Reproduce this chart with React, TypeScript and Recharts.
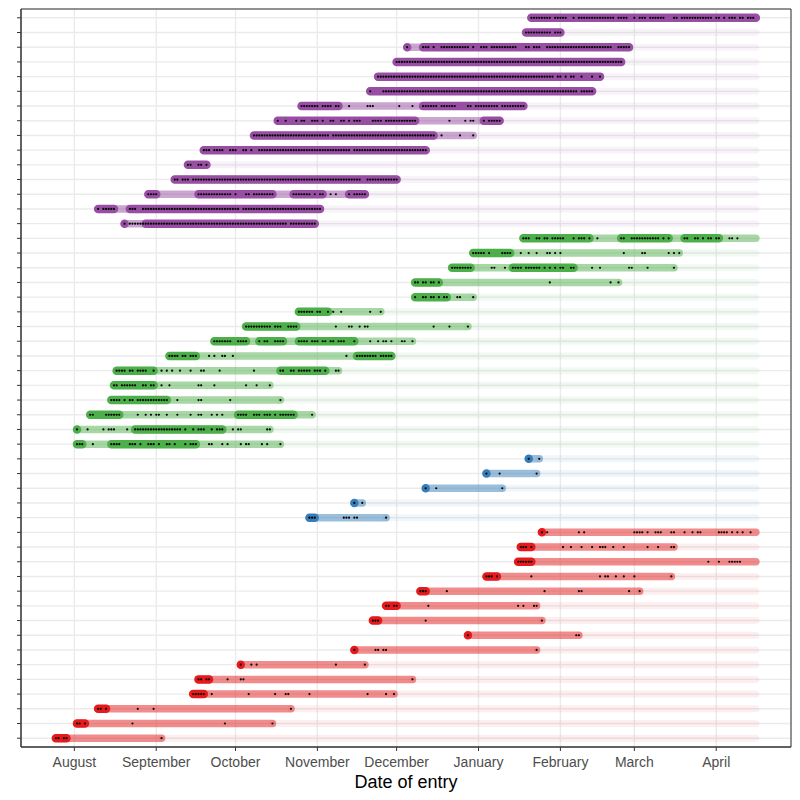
import React from 'react';
import {
  ComposedChart,
  Line,
  Scatter,
  XAxis,
  YAxis,
  CartesianGrid,
  ReferenceArea,
} from 'recharts';

// All dates are day offsets counted from 1 August (day 0).
const STUDY_END = 258; // 16 April

const monthTicks = [0, 31, 61, 92, 122, 153, 184, 212, 243];
const monthLabels = [
  'August', 'September', 'October', 'November', 'December',
  'January', 'February', 'March', 'April',
];

// Groups from bottom to top of the chart
const groupColors = ['#E41A1C', '#377EB8', '#4DAF4A', '#984EA3'];
const groupSizes = [15, 5, 15, 15];

// Per row (bottom row first): first entry, end of the followed period
const firstEntry = [
  -7, 1, 9, 45, 47, 63, 106, 149, 113, 118, 131, 156, 168, 169, 177,
  89, 106, 133, 156, 172,
  1, 1, 6, 14, 15, 16, 36, 53, 65, 85, 129, 129, 143, 151, 170,
  19, 9, 28, 38, 43, 49, 68, 77, 86, 112, 115, 122, 126, 171, 173,
];
const periodEnd = [
  33, 75, 82, 121, 128, 110, 175, 191, 177, 175, 214, 226, 258, 227, 258,
  118, 109, 162, 175, 176,
  78, 74, 90, 78, 74, 100, 120, 128, 149, 116, 151, 206, 227, 229, 258,
  91, 93, 110, 122, 50, 133, 151, 161, 170, 196, 199, 207, 210, 184, 258,
];

// Streaks of regular entries ("a:b" = from day a to day b)
const streaks = [
  '-7:-3', '1:4', '9:12', '45:49', '47:51', '63:63', '106:106', '149:149',
  '113:115', '118:122', '131:133', '156:160', '168:173', '169:173', '177:177',
  '89:91', '106:106', '133:133', '156:156', '172:172',
  '1:3 14:46', '1:1 23:56', '6:17 62:83', '14:35', '15:30', '16:30 78:95',
  '36:46 107:120', '53:65 70:79 85:106', '65:84', '85:96', '129:141',
  '129:138', '143:150 166:189', '151:165', '170:195 207:225 231:244',
  '19:19 27:91', '9:15 21:93', '28:31 47:75 83:94 104:110', '38:122',
  '43:50', '49:133', '68:136', '77:129 155:161', '86:100 132:170',
  '112:196', '115:199', '122:207', '126:126 132:210', '171:184', '173:258',
];

// Days with an entry ("a:b" = an entry on every day from a to b)
const entryDays = [
  '-7 -6 -4 -3 33',
  '1 2 4 22 57 75',
  '9 10 12 24 30 82',
  '45:49 52 66 76 80 81 89 111 118 121',
  '47 48 50 51 58 63 64 128',
  '63 67 69 99 110',
  '106 114 115 117 118 175',
  '149 190 191',
  '113:115 133 177',
  '118 119 121 122 134 168 170 174 175',
  '131:133 141 178 191 192 210 214',
  '156:158 160 173 199 201 202 205 208 212 226',
  '168:173 240 244 248:252',
  '169:171 173 185 188 192 196 199:201 204 208 217 221 226 227',
  '177 179 191 193 212:215 217 220:222 226 227 231 234 236 237 244:247 249 251 253 256',
  '89:91 102:104 106 107 118',
  '106 109',
  '133 137 162',
  '156 161 175',
  '172 176',
  '1:3 7 14:17 21:23 25 28:30 32 35 36 38 42 44:46 51 52 56 58 63 65 66 71 73 78',
  '1 5 11 13:15 20 23:40 42 45 47:49 52 54:56 60 62 63 73 74',
  '6 7 12:17 24 27 29 31 32 35 39 44 47 48 52 54 56 62:65 68:70 72:74 76 78:83 90',
  '14:17 19 21 22 24:35 39 47 48 59 78',
  '15 16 18:23 26 27 29 30 33 36 47 48 53 65 69 74',
  '16:19 21 22 24:27 30 33 35 37 40 44 48 49 55 68 78 79 82 83 85:89 91:93 95 99 100',
  '36:39 41 42 44:46 51 53 56 57 60 103 107:114 116:120',
  '53:59 62:65 70 72 73 76:79 85:88 90:92 94 95 97 98 100:102 106 112 115 117 118 120 124 125 128',
  '65:74 76:78 81:84 99 104 105 108 110 111 136 142 149',
  '85:90 92 93 96 98 101 112 116',
  '129 132 133 135 136 138 140 141 145 146 151',
  '129 130 132 133 135 136 138 180 203 206',
  '143:150 158 159 163 166:169 171:176 178 180 182 184 185 188 189 196 199 210 211 217 227',
  '151:155 157 162:165 169 172 175 179 180 182 184 208 215 216 225 227 229',
  '170:172 175 176 178 179 181:185 189 191:193 195 198 207 208 211:221 223 225 231 232 235 236 238 240 241 243 244 248 249 251',
  '19 21:80 82:91',
  '9 11:15 21:23 26:62 64:93',
  '28:31 47:59 61 65 66 68:75 83:89 91 93 94 97 99 104 106:110',
  '38 39 41:43 45:108 111:122',
  '43 44 47 48 50',
  '49:51 53:56 59:61 64 65 67 70:104 106:133',
  '68:96 98:136 139 146 151',
  '77 80 84 86 87 90:92 94 97 98 101 102 104 106:108 113:116 118:129 142 148 150 151 155 157:161',
  '86:92 94:97 99 100 104 111:113 123 128 132:137 139:144 149 150 152:160 162:170',
  '112 117:190 192:196',
  '115:181 183 184 186 188 189 192 196 199',
  '122:207',
  '126 132:134 136 139:149 151 154:156 158:167 171 172 174:176 179:203 206:210',
  '171:180 182:184',
  '173:180 182:186 189 191:204 206:209 212 214:216 218:223 227 228 230:241 243 244 246 248:250 252 253 255:257',
];

type Pt = { x: number; y: number | null };

const parseRanges = (s: string): [number, number][] =>
  s.split(' ').filter(Boolean).map((tok) => {
    const parts = tok.split(':').map(Number);
    return [parts[0], parts.length > 1 ? parts[1] : parts[0]] as [number, number];
  });

const expandDays = (s: string): number[] =>
  parseRanges(s).flatMap(([a, b]) => {
    const out: number[] = [];
    for (let d = a; d <= b; d++) out.push(d);
    return out;
  });

const rowGroup: number[] = groupSizes.flatMap((n, g) => Array(n).fill(g));
const rowTicks = rowGroup.map((_, i) => i + 1);

const pushSeg = (arr: Pt[], a: number, b: number, row: number) => {
  arr.push({ x: a, y: row }, { x: b, y: row }, { x: b, y: null });
};

const layers = groupColors.map((color, g) => {
  const faint: Pt[] = [];
  const medium: Pt[] = [];
  const dark: Pt[] = [];
  rowGroup.forEach((rg, i) => {
    if (rg !== g) return;
    const row = i + 1;
    if (periodEnd[i] < STUDY_END) pushSeg(faint, periodEnd[i], STUDY_END, row);
    pushSeg(medium, firstEntry[i], periodEnd[i], row);
    parseRanges(streaks[i]).forEach(([a, b]) => pushSeg(dark, a, b, row));
  });
  return { color, faint, medium, dark };
});

const dots = entryDays.flatMap((s, i) => expandDays(s).map((d) => ({ x: d, y: i + 1 })));

const monthName = (v: number) => monthLabels[monthTicks.indexOf(v)] ?? '';

const lineCommon = {
  dataKey: 'y',
  dot: false as const,
  activeDot: false as const,
  isAnimationActive: false,
  legendType: 'none' as const,
  strokeLinecap: 'round' as const,
};

const NoLabel = () => <g />;

export default function App() {
  return (
    <div style={{ fontFamily: '"Liberation Sans", Arial, sans-serif', width: 784, height: 784 }}>
      <ComposedChart width={784} height={784} margin={{ top: 1, right: 1, bottom: 0, left: 0 }}>
        <CartesianGrid stroke="#EBEBEB" strokeWidth={1.4} />
        <XAxis
          type="number"
          dataKey="x"
          domain={[-20.2, 271.3]}
          allowDataOverflow
          ticks={monthTicks}
          interval={0}
          tickFormatter={monthName}
          tickSize={4}
          tickMargin={6}
          height={45}
          tick={{ fill: '#4D4D4D', fontSize: 14 }}
          axisLine={{ stroke: '#333333' }}
          tickLine={{ stroke: '#333333' }}
          label={{ value: 'Date of entry', position: 'insideBottom', offset: 4, fill: '#000000', fontSize: 18 }}
        />
        <YAxis
          type="number"
          dataKey="y"
          domain={[0.4, 50.6]}
          allowDataOverflow
          ticks={rowTicks}
          interval={0}
          tick={<NoLabel />}
          tickSize={4}
          width={13}
          axisLine={{ stroke: '#333333' }}
          tickLine={{ stroke: '#333333' }}
        />
        {layers.map((l, i) => (
          <Line key={`f${i}`} {...lineCommon} data={l.faint} stroke={l.color} strokeOpacity={0.07} strokeWidth={7} />
        ))}
        {layers.map((l, i) => (
          <Line key={`m${i}`} {...lineCommon} data={l.medium} stroke={l.color} strokeOpacity={0.5} strokeWidth={7.5} />
        ))}
        {layers.map((l, i) => (
          <Line key={`d${i}`} {...lineCommon} data={l.dark} stroke={l.color} strokeOpacity={1} strokeWidth={8.5} />
        ))}
        <Scatter
          data={dots}
          isAnimationActive={false}
          legendType="none"
          shape={(p: any) => <circle cx={p.cx} cy={p.cy} r={1.1} fill="#000000" />}
        />
        <ReferenceArea x1={-20.2} x2={271.3} y1={0.4} y2={50.6} fill="none" stroke="#333333" strokeWidth={1} ifOverflow="visible" />
      </ComposedChart>
    </div>
  );
}
